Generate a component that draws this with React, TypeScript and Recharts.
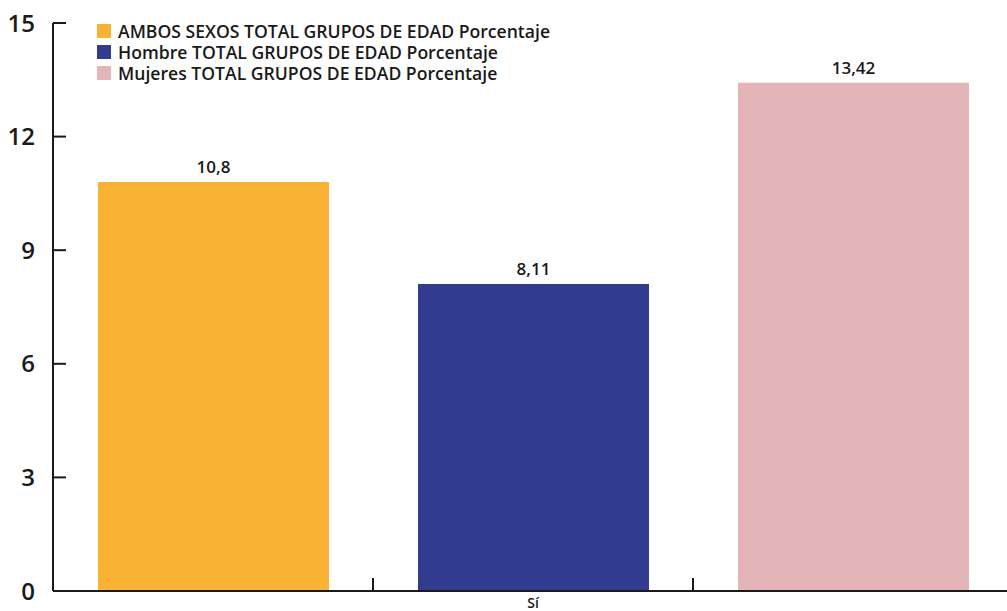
import { BarChart, Bar, XAxis, YAxis, Legend, LabelList } from "recharts";

const categories = ["", "Sí", ""];
const seriesNames = [
  "AMBOS SEXOS TOTAL GRUPOS DE EDAD Porcentaje",
  "Hombre TOTAL GRUPOS DE EDAD Porcentaje",
  "Mujeres TOTAL GRUPOS DE EDAD Porcentaje",
];
const seriesValues = [10.8, 8.11, 13.42];
const seriesColors = ["#F9B233", "#323C8F", "#E4B5B8"];
const yTicks = [0, 3, 6, 9, 12, 15];

// each series sits in its own category slot
const data = categories.map((name, i) => {
  const row: Record<string, any> = { name };
  seriesValues.forEach((v, j) => {
    row["s" + j] = i === j ? v : null;
  });
  return row;
});

const CHART_W = 1013;
const CHART_H = 611;
const Y_AXIS_W = 53;
const band = (CHART_W - Y_AXIS_W) / categories.length;
const font = "'Open Sans', 'Noto Sans', sans-serif";
const ink = "#1a1a1a";

const fmt = (v: any) => (v == null || v === 0 ? "" : String(v).replace(".", ","));

const YTick = ({ x, y, payload }: any) => (
  <g>
    <line x1={x} x2={x + 13} y1={y} y2={y} stroke={ink} strokeWidth={2} />
    <text x={x - 18} y={y} dy="0.36em" textAnchor="end" fontFamily={font} fontSize={24} fontWeight={600} fill={ink}>
      {payload.value}
    </text>
  </g>
);

const XTick = ({ x, y, payload }: any) => (
  <g>
    <line x1={x + band / 2} x2={x + band / 2} y1={y} y2={y - 13} stroke={ink} strokeWidth={2} />
    <text x={x} y={y + 17} textAnchor="middle" fontFamily={font} fontSize={14} fontWeight={600} fill={ink}>
      {payload.value}
    </text>
  </g>
);

const LegendBox = ({ payload }: any) => (
  <div style={{ fontFamily: font, fontSize: 17.6, fontWeight: 600, color: ink, lineHeight: "20px" }}>
    {(payload || []).map((e: any) => (
      <div key={e.value} style={{ display: "flex", alignItems: "center", height: 20.8, whiteSpace: "nowrap" }}>
        <span style={{ width: 14, height: 14, background: e.color, marginRight: 7, display: "inline-block", flex: "none" }} />
        <span style={{ lineHeight: "20px" }}>{e.value}</span>
      </div>
    ))}
  </div>
);

export default function App() {
  return (
    <div style={{ position: "absolute", left: 0, top: 0, width: 1007, height: 611, overflow: "hidden", background: "#fff" }}>
      <BarChart
        width={CHART_W}
        height={CHART_H}
        data={data}
        margin={{ top: 23, right: 0, bottom: 0, left: 0 }}
        barSize={231}
      >
        <XAxis
          dataKey="name"
          height={20}
          axisLine={{ stroke: ink, strokeWidth: 2 }}
          tickLine={false}
          tickSize={0}
          tickMargin={0}
          tick={<XTick />}
          interval={0}
        />
        <YAxis
          width={Y_AXIS_W}
          domain={[0, 15]}
          ticks={yTicks}
          axisLine={{ stroke: ink, strokeWidth: 2 }}
          tickLine={false}
          tickSize={0}
          tickMargin={0}
          tick={<YTick />}
          interval={0}
        />
        <Legend
          layout="vertical"
          align="center"
          verticalAlign="middle"
          wrapperStyle={{ top: 21, left: 97, width: "auto" }}
          content={<LegendBox />}
        />
        {seriesNames.map((n, j) => (
          <Bar key={n} dataKey={"s" + j} name={n} stackId="a" fill={seriesColors[j]} isAnimationActive={false}>
            <LabelList
              dataKey={"s" + j}
              position="top"
              offset={9}
              formatter={fmt}
              style={{ fontFamily: font, fontSize: 17, fontWeight: 600, fill: ink }}
            />
          </Bar>
        ))}
      </BarChart>
    </div>
  );
}
